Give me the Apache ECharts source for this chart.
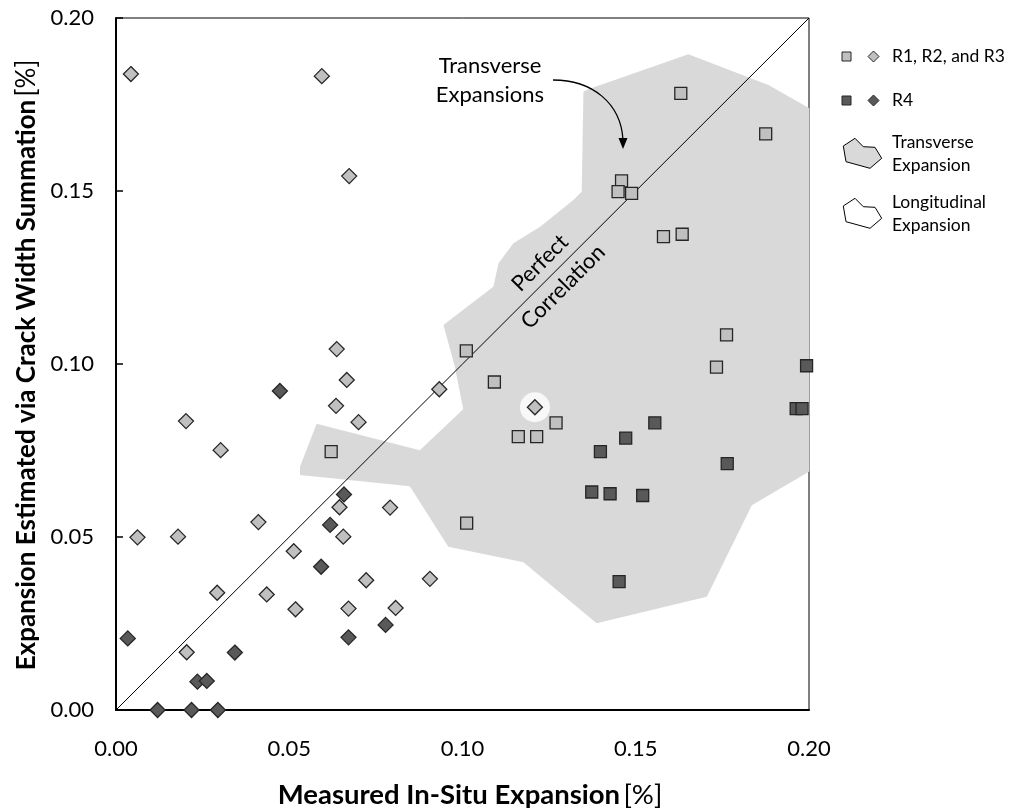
<!DOCTYPE html>
<html>
<head>
<meta charset="utf-8">
<script src="https://cdn.jsdelivr.net/npm/echarts@6/dist/echarts.min.js"></script>
<style>html,body{margin:0;padding:0;background:#fff}#c{width:1014px;height:810px}</style>
</head>
<body>
<div id="c"></div>
<script>
// ---- data ----
const xTicks = [0, 0.05, 0.10, 0.15, 0.20];
const yTicks = [0, 0.05, 0.10, 0.15, 0.20];
const lightSquares = [[0.0621,0.0747],[0.1011,0.1038],[0.1092,0.0948],[0.1270,0.0830],[0.1161,0.0790],[0.1214,0.0790],[0.1012,0.0540],[0.1459,0.1529],[0.1449,0.1498],[0.1488,0.1493],[0.1630,0.1782],[0.1875,0.1665],[0.1580,0.1368],[0.1634,0.1375],[0.1762,0.1084],[0.1733,0.0991]];
const darkSquares = [[0.1993,0.0995],[0.1963,0.0871],[0.1980,0.0871],[0.1555,0.0830],[0.1471,0.0786],[0.1398,0.0747],[0.1764,0.0712],[0.1373,0.0630],[0.1426,0.0625],[0.1520,0.0620],[0.1452,0.0371]];
const lightDiamonds = [[0.0043,0.1838],[0.0594,0.1832],[0.0673,0.1543],[0.0637,0.1043],[0.0666,0.0954],[0.0635,0.0879],[0.0700,0.0832],[0.0202,0.0835],[0.0302,0.0751],[0.0933,0.0927],[0.0645,0.0586],[0.0791,0.0585],[0.0411,0.0543],[0.0062,0.0499],[0.0179,0.0501],[0.0656,0.0501],[0.0513,0.0459],[0.0722,0.0375],[0.0906,0.0379],[0.0292,0.0339],[0.0435,0.0334],[0.0518,0.0291],[0.0671,0.0293],[0.0807,0.0295],[0.0204,0.0167],[0.1209,0.0875]];
const darkDiamonds = [[0.0473,0.0922],[0.0658,0.0623],[0.0618,0.0535],[0.0592,0.0414],[0.0034,0.0207],[0.0343,0.0166],[0.0235,0.0082],[0.0262,0.0084],[0.0120,0],[0.0218,0],[0.0294,0],[0.0671,0.0210],[0.0778,0.0246]];
const transverseRegion = [[0.1652,0.1895],[0.1883,0.1806],[0.2001,0.1739],[0.2001,0.0689],[0.1835,0.0592],[0.1705,0.0327],[0.1387,0.0251],[0.1176,0.0427],[0.0959,0.0472],[0.0848,0.0647],[0.0531,0.0679],[0.0531,0.0703],[0.0579,0.0827],[0.0877,0.0751],[0.1002,0.0869],[0.0978,0.0992],[0.0945,0.1113],[0.1089,0.1223],[0.1104,0.1291],[0.1147,0.1349],[0.1224,0.1397],[0.1320,0.1474],[0.1344,0.1498],[0.1349,0.1787],[0.1363,0.1794]];
const longitudinalRegion = [[0.1209,0.0875]];
const perfectLine = [[0,0],[0.2,0.2]];

const FONT = 'Lato';
const LIGHT = '#c0c0c0', DARK = '#595959', EDGE = '#262626', REGION = '#d9d9d9';

const chart = echarts.init(document.getElementById('c'), null, {renderer:'canvas'});

function markerSeries(data, symbol, size, color){
  return {type:'scatter', data, symbol, symbolSize:size, clip:false, z:5,
    itemStyle:{color, borderColor:EDGE, borderWidth:1.3, opacity:1}, emphasis:{disabled:true}};
}

const option = {
  animation:false,
  backgroundColor:'#fff',
  grid:{left:116, right:205, top:18, bottom:100, show:true, borderColor:'#000', borderWidth:1, backgroundColor:'transparent'},
  xAxis:{type:'value', min:0, max:0.2, interval:0.05,
    axisLine:{show:true, onZero:false, lineStyle:{color:'#000', width:2}},
    axisTick:{show:false}, splitLine:{show:false},
    axisLabel:{margin:28, fontFamily:FONT, fontSize:22, color:'#000', formatter:v=>v.toFixed(2)}},
  yAxis:{type:'value', min:0, max:0.2, interval:0.05,
    axisLine:{show:true, onZero:false, lineStyle:{color:'#000', width:2}},
    axisTick:{show:true, inside:true, length:7, lineStyle:{color:'#000', width:1.5}}, splitLine:{show:false},
    axisLabel:{margin:22, fontFamily:FONT, fontSize:22, color:'#000', formatter:v=>v.toFixed(2)}},
  series:[
    {type:'custom', z:1, data:[0], silent:true,
      renderItem:(params, api)=>{
        const pts = transverseRegion.map(p=>api.coord(p));
        return {type:'polygon', shape:{points:pts}, style:{fill:REGION, stroke:null}};
      }},
    {type:'scatter', z:2, data:longitudinalRegion, symbol:'circle', symbolSize:30, clip:false, silent:true,
      itemStyle:{color:'#fff', borderWidth:0}},
    {type:'line', z:3, data:perfectLine, symbol:'none', lineStyle:{color:'#000', width:1}, silent:true},
    markerSeries(lightDiamonds, 'diamond', 15, LIGHT),
    markerSeries(darkDiamonds, 'diamond', 15, DARK),
    markerSeries(lightSquares, 'rect', 12, LIGHT),
    markerSeries(darkSquares, 'rect', 12, DARK)
  ],
  graphic:[
    // axis titles
    {type:'text', z:100, x:470, y:795, style:{text:'{b|Measured In-Situ Expansion} {n|[%]}', align:'center', verticalAlign:'middle',
      rich:{b:{fontFamily:FONT, fontWeight:'bold', fontSize:27.5, fill:'#000'}, n:{fontFamily:FONT, fontSize:27.5, fill:'#000'}}}},
    {type:'text', z:100, x:27, y:365, rotation:Math.PI/2, style:{text:'{b|Expansion Estimated via Crack Width Summation} {n|[%]}', align:'center', verticalAlign:'middle',
      rich:{b:{fontFamily:FONT, fontWeight:'bold', fontSize:26, fill:'#000'}, n:{fontFamily:FONT, fontSize:26, fill:'#000'}}}},
    // annotations
    {type:'text', z:100, x:490, y:80, style:{text:'Transverse\nExpansions', align:'center', verticalAlign:'middle', fontFamily:FONT, fontSize:22, lineHeight:29, fill:'#000'}},
    {type:'bezierCurve', z:100, shape:{x1:553, y1:80, cpx1:592, cpy1:80, cpx2:621, cpy2:103, x2:623, y2:140}, style:{stroke:'#000', lineWidth:1.3, fill:null}},
    {type:'polygon', z:100, shape:{points:[[618.5,138],[627.5,138],[623,149]]}, style:{fill:'#000'}},
    {type:'text', z:100, x:540, y:263, rotation:Math.PI/4, style:{text:'Perfect', align:'center', verticalAlign:'middle', fontFamily:FONT, fontSize:22, fill:'#000'}},
    {type:'text', z:100, x:563, y:287, rotation:Math.PI/4, style:{text:'Correlation', align:'center', verticalAlign:'middle', fontFamily:FONT, fontSize:22, fill:'#000'}},
    // legend
    {type:'rect', z:100, shape:{x:842, y:52, width:9, height:9}, style:{fill:LIGHT, stroke:EDGE, lineWidth:1}},
    {type:'polygon', z:100, shape:{points:[[873.5,51],[879,56.5],[873.5,62],[868,56.5]]}, style:{fill:LIGHT, stroke:EDGE, lineWidth:1}},
    {type:'text', z:100, x:892, y:56, style:{text:'R1, R2, and R3', verticalAlign:'middle', fontFamily:FONT, fontSize:17.5, fill:'#000'}},
    {type:'rect', z:100, shape:{x:842, y:96, width:9, height:9}, style:{fill:DARK, stroke:EDGE, lineWidth:1}},
    {type:'polygon', z:100, shape:{points:[[873.5,95],[879,100.5],[873.5,106],[868,100.5]]}, style:{fill:DARK, stroke:EDGE, lineWidth:1}},
    {type:'text', z:100, x:892, y:100, style:{text:'R4', verticalAlign:'middle', fontFamily:FONT, fontSize:17.5, fill:'#000'}},
    {type:'polygon', z:100, shape:{points:[[843.3,146],[855,138.3],[863.3,146.7],[875,147.3],[881.7,158.3],[870,168.3],[846,161.7]]}, style:{fill:REGION, stroke:'#000', lineWidth:1}},
    {type:'text', z:100, x:892, y:154, style:{text:'Transverse\nExpansion', verticalAlign:'middle', fontFamily:FONT, fontSize:17.5, lineHeight:23, fill:'#000'}},
    {type:'polygon', z:100, shape:{points:[[843.3,206],[855,198.3],[863.3,206.7],[875,207.3],[881.7,218.3],[870,228.3],[846,221.7]]}, style:{fill:'#fff', stroke:'#000', lineWidth:1}},
    {type:'text', z:100, x:892, y:214, style:{text:'Longitudinal\nExpansion', verticalAlign:'middle', fontFamily:FONT, fontSize:17.5, lineHeight:23, fill:'#000'}}
  ]
};
chart.setOption(option);
</script>
</body>
</html>
